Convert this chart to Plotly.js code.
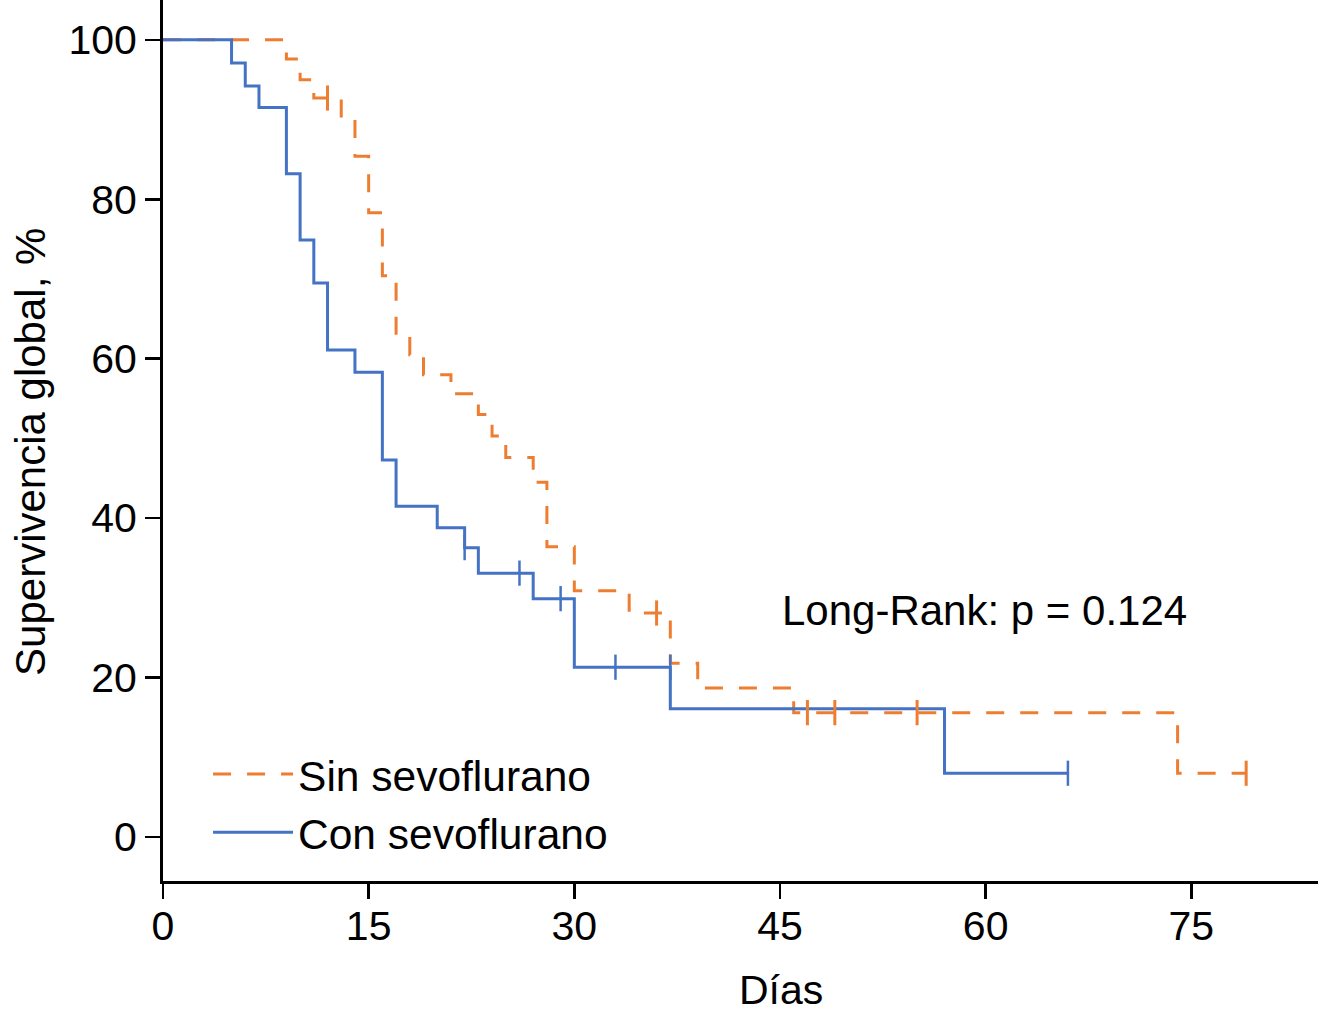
<!DOCTYPE html>
<html>
<head>
<meta charset="utf-8">
<script src="https://cdn.plot.ly/plotly-3.0.1.min.js"></script>
<style>
html,body{margin:0;padding:0;background:#fff;overflow:hidden;}
#chart{width:1318px;height:1024px;}
</style>
</head>
<body>
<div id="chart"></div>
<script>
// Sin sevoflurano (step curve)
const sinDays   = [0, 9, 10, 11, 13, 14, 15, 16, 17, 18, 19, 21, 23, 24, 25, 27, 28, 30, 34, 37, 39, 46, 74, 79];
const sinSurv   = [100, 97.6, 95.0, 92.7, 90.1, 85.4, 78.3, 70.4, 63.0, 60.5, 58.0, 55.6, 53.0, 50.3, 47.6, 44.5, 36.4, 30.9, 28.1, 21.8, 18.7, 15.6, 8.0, 8.0];
const sinCensDays = [12, 36, 47, 49, 55, 79];
const sinCensSurv = [92.7, 28.1, 15.6, 15.6, 15.6, 8.0];

// Con sevoflurano (step curve)
const conDays   = [0, 5, 6, 7, 9, 10, 11, 12, 14, 16, 17, 20, 22, 23, 27, 30, 37, 57, 66];
const conSurv   = [100, 97.1, 94.2, 91.5, 83.2, 74.9, 69.5, 61.1, 58.3, 47.3, 41.5, 38.8, 36.3, 33.1, 29.9, 21.3, 16.1, 8.0, 8.0];
const conCensDays = [22, 26, 29, 33, 37, 66];
const conCensSurv = [36.3, 33.1, 29.9, 21.3, 21.3, 8.0];

const xTicks = [0, 15, 30, 45, 60, 75];
const yTicks = [0, 20, 40, 60, 80, 100];

const ORANGE = '#ED7D31';
const BLUE = '#4472C4';
const FONT = '"Liberation Sans", Arial, Helvetica, sans-serif';

const traces = [
  {x: sinDays, y: sinSurv, type: 'scatter', mode: 'lines', name: 'Sin sevoflurano',
   line: {shape: 'hv', color: ORANGE, width: 3, dash: '18px,16px'}},
  {x: conDays, y: conSurv, type: 'scatter', mode: 'lines', name: 'Con sevoflurano',
   line: {shape: 'hv', color: BLUE, width: 3}},
  {x: sinCensDays, y: sinCensSurv, type: 'scatter', mode: 'markers', showlegend: false, hoverinfo: 'skip',
   marker: {symbol: 'line-ns', size: 18, line: {color: ORANGE, width: 3}}},
  {x: conCensDays, y: conCensSurv, type: 'scatter', mode: 'markers', showlegend: false, hoverinfo: 'skip',
   marker: {symbol: 'line-ns', size: 18, line: {color: BLUE, width: 2.5}}}
];

const layout = {
  width: 1318, height: 1024,
  margin: {l: 163, r: 0, t: 0, b: 143, pad: 0},
  paper_bgcolor: '#fff', plot_bgcolor: '#fff',
  font: {family: FONT, size: 41, color: '#000'},
  showlegend: true,
  legend: {x: 0.039, y: 0.088, xanchor: 'left', yanchor: 'middle', bgcolor: 'rgba(0,0,0,0)',
           font: {family: FONT, size: 42.5, color: '#000'}, itemwidth: 80, traceorder: 'normal'},
  xaxis: {range: [0, 84.24], tickvals: xTicks, ticktext: xTicks.map(String), showgrid: false, zeroline: false,
          showline: true, linecolor: '#000', linewidth: 3, ticks: 'outside', ticklen: 15, tickwidth: 2.5,
          tickcolor: '#000', ticklabelstandoff: -8, tickfont: {family: FONT, size: 41, color: '#000'}},
  yaxis: {range: [-5.52, 105.0], tickvals: yTicks, ticktext: yTicks.map(String), showgrid: false, zeroline: false,
          showline: true, linecolor: '#000', linewidth: 3, ticks: 'outside', ticklen: 15, tickwidth: 2.5,
          tickcolor: '#000', tickfont: {family: FONT, size: 41, color: '#000'}},
  annotations: [
    {text: 'Long-Rank: p = 0.124', x: 45.0, y: 28.4, xref: 'x', yref: 'y', xanchor: 'left', yanchor: 'middle',
     showarrow: false, font: {family: FONT, size: 42, color: '#000'}},
    {text: 'Días', x: 45.1, y: -0.1237, xref: 'x', yref: 'paper', xanchor: 'center', yanchor: 'middle',
     showarrow: false, font: {family: FONT, size: 41, color: '#000'}},
    {text: 'Supervivencia global, %', x: -0.1143, y: 0.487, xref: 'paper', yref: 'paper', xanchor: 'center', yanchor: 'middle',
     textangle: -90, showarrow: false, font: {family: FONT, size: 42, color: '#000'}}
  ]
};

Plotly.newPlot('chart', traces, layout, {displayModeBar: false, staticPlot: true});
</script>
</body>
</html>
